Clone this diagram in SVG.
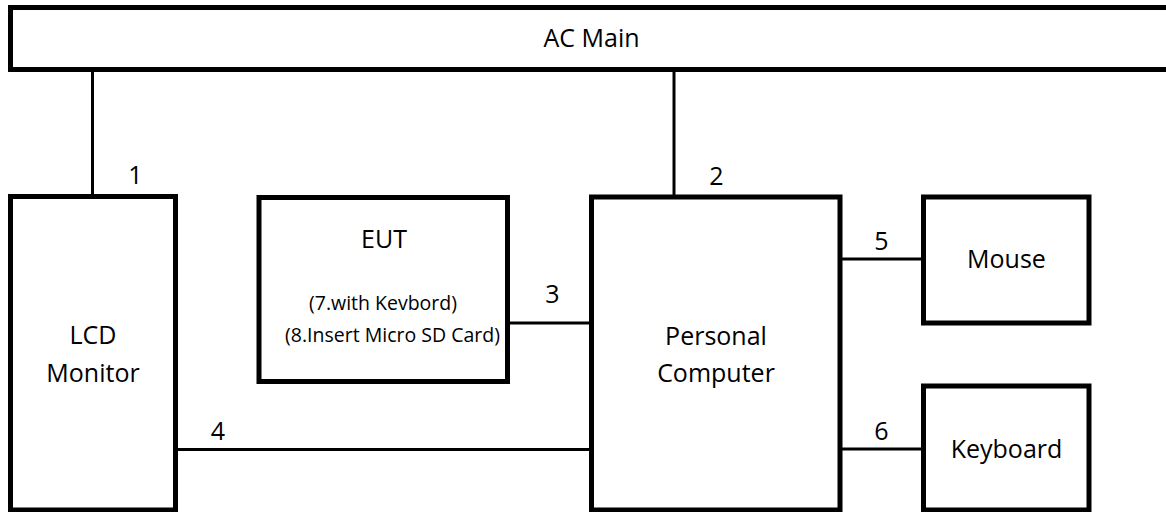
<svg xmlns="http://www.w3.org/2000/svg" width="1166" height="512" viewBox="0 0 1166 512">
<style>
.box{fill:#fff;stroke:#000;stroke-width:5}
.wire{stroke:#000;stroke-width:3;fill:none}
text{font-family:"Open Sans","Liberation Sans",sans-serif;fill:#000;text-anchor:middle}
.lbl{font-size:25px}
.sm{font-size:19.5px}
</style>
<rect width="1166" height="512" fill="#fff"/>
<g id="connectors">
<line class="wire" x1="92.5" y1="71" x2="92.5" y2="195"/>
<line class="wire" x1="674" y1="71" x2="674" y2="195"/>
<line class="wire" x1="509" y1="323" x2="590" y2="323"/>
<line class="wire" x1="177" y1="449.5" x2="590" y2="449.5"/>
<line class="wire" x1="842" y1="259" x2="922" y2="259"/>
<line class="wire" x1="842" y1="449" x2="922" y2="449"/>
<text class="lbl" x="135.5" y="184">1</text>
<text class="lbl" x="716.5" y="185">2</text>
<text class="lbl" x="552.5" y="303">3</text>
<text class="lbl" x="218" y="440">4</text>
<text class="lbl" x="881.5" y="250">5</text>
<text class="lbl" x="881.5" y="439.5">6</text>
</g>
<g id="ac-main">
<rect class="box" x="10.5" y="7.5" width="1165" height="62"/>
<text class="lbl" x="591.5" y="47">AC Main</text>
</g>
<g id="lcd-monitor">
<rect class="box" x="10.5" y="196.5" width="165" height="313.5"/>
<text class="lbl" x="93" y="344">LCD</text>
<text class="lbl" x="93" y="382">Monitor</text>
</g>
<g id="eut">
<rect class="box" x="259" y="197.5" width="248.5" height="184"/>
<text class="lbl" x="384" y="248">EUT</text>
<text class="sm" x="383" y="310">(7.with Kevbord)</text>
<text class="sm" x="392.5" y="342">(8.Insert Micro SD Card)</text>
</g>
<g id="personal-computer">
<rect class="box" x="591.5" y="197" width="248.5" height="313"/>
<text class="lbl" x="716" y="345">Personal</text>
<text class="lbl" x="716" y="382">Computer</text>
</g>
<g id="mouse">
<rect class="box" x="923.5" y="197" width="165.5" height="126"/>
<text class="lbl" x="1006.5" y="268">Mouse</text>
</g>
<g id="keyboard">
<rect class="box" x="923.5" y="386" width="165.5" height="124"/>
<text class="lbl" x="1006.5" y="458">Keyboard</text>
</g>
</svg>
